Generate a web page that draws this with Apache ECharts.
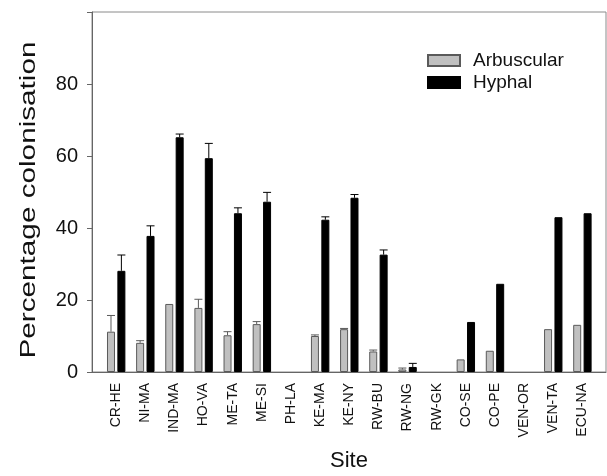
<!DOCTYPE html>
<html>
<head>
<meta charset="utf-8">
<script src="https://cdn.jsdelivr.net/npm/echarts@6/dist/echarts.min.js"></script>
<style>html,body{margin:0;padding:0;background:#fff}#c{width:607px;height:476px}</style>
</head>
<body>
<div id="c"></div>
<script>
const sites = ['CR-HE','NI-MA','IND-MA','HO-VA','ME-TA','ME-SI','PH-LA','KE-MA','KE-NY','RW-BU','RW-NG','RW-GK','CO-SE','CO-PE','VEN-OR','VEN-TA','ECU-NA'];
const arbuscular = [11.2, 8.1, 18.9, 17.8, 10.2, 13.3, 0, 10.0, 11.9, 5.7, 0.7, 0, 3.5, 5.9, 0, 11.9, 13.1];
const arbuscularErr = [4.5, 0.6, 0, 2.4, 1.0, 0.7, 0, 0.3, 0.2, 0.4, 0.4, 0, 0, 0, 0, 0, 0];
const hyphal = [28.1, 37.8, 65.2, 59.4, 44.1, 47.3, 0, 42.3, 48.4, 32.6, 1.4, 0, 13.9, 24.5, 0, 43.0, 44.1];
const hyphalErr = [4.4, 2.8, 0.9, 4.1, 1.5, 2.6, 0, 0.8, 0.9, 1.3, 1.0, 0, 0, 0, 0, 0, 0];
const yTicks = [0, 20, 40, 60, 80];

const FONT = 'Liberation Sans, Arial, sans-serif';
const pos = sites.map((s, i) => i + 1);

function errSeries(vals, errs, offset, color) {
  return {
    type: 'custom',
    silent: true,
    z: 1,
    data: pos.map((p, i) => [p, vals[i], errs[i]]),
    renderItem: function (params, api) {
      const e = api.value(2);
      if (!e) return null;
      const x = api.value(0), v = api.value(1);
      const b = api.coord([x, v]);
      const t = api.coord([x, v + e]);
      const cx = b[0] + offset;
      return {
        type: 'group',
        children: [
          { type: 'line', shape: { x1: cx, y1: b[1], x2: cx, y2: t[1] }, style: { stroke: color, lineWidth: 1 } },
          { type: 'line', shape: { x1: cx - 4, y1: t[1], x2: cx + 4, y2: t[1] }, style: { stroke: color, lineWidth: 1 } }
        ]
      };
    }
  };
}

const chart = echarts.init(document.getElementById('c'), null, { renderer: 'canvas' });
chart.setOption({
  animation: false,
  backgroundColor: '#fff',
  textStyle: { fontFamily: FONT },
  grid: { left: 92, right: 1, top: 12, bottom: 104, show: true, borderColor: '#8a8a8a', borderWidth: 1, containLabel: false, outerBoundsMode: 'none' },
  graphic: [{
    type: 'text',
    x: 29,
    y: 200,
    rotation: Math.PI / 2,
    scaleX: 1.35,
    style: {
      text: 'Percentage colonisation',
      fontFamily: FONT,
      fontSize: 22,
      fill: '#111',
      align: 'center',
      verticalAlign: 'middle'
    }
  }],
  legend: {
    orient: 'vertical',
    left: 427,
    top: 51,
    padding: 0,
    itemWidth: 32,
    itemHeight: 11,
    itemGap: 3,
    icon: 'rect',
    textStyle: { fontFamily: FONT, fontSize: 19, color: '#111', padding: [0, 0, 0, 8] },
    data: ['Arbuscular', 'Hyphal']
  },
  xAxis: {
    type: 'value',
    min: 0.17,
    max: 17.81,
    name: 'Site',
    nameLocation: 'middle',
    nameGap: 78,
    nameTextStyle: { fontFamily: FONT, fontSize: 22, color: '#111' },
    axisLine: { show: true, onZero: false, lineStyle: { color: '#666', width: 1 } },
    axisTick: { show: false },
    splitLine: { show: false },
    axisLabel: {
      customValues: pos,
      rotate: 90,
      margin: 11,
      fontFamily: FONT,
      fontSize: 14,
      color: '#111',
      formatter: function (v) { return sites[Math.round(v) - 1] || ''; }
    }
  },
  yAxis: {
    type: 'value',
    min: 0,
    max: 100,
    interval: 20,
    axisLine: { show: true, lineStyle: { color: '#666', width: 1 } },
    axisTick: { show: true, length: 5, lineStyle: { color: '#666' } },
    splitLine: { show: false },
    axisLabel: {
      fontFamily: FONT,
      fontSize: 20,
      color: '#111',
      margin: 14,
      formatter: function (v) { return yTicks.indexOf(v) >= 0 ? String(v) : ''; }
    }
  },
  series: [
    {
      name: 'Arbuscular',
      type: 'bar',
      barWidth: 8,
      barGap: '30%',
      data: pos.map((p, i) => [p, arbuscular[i] === 0 ? null : arbuscular[i]]),
      itemStyle: { color: '#c0c0c0', borderColor: '#5a5a5a', borderWidth: 1 }
    },
    {
      name: 'Hyphal',
      type: 'bar',
      barWidth: 8,
      barGap: '30%',
      data: pos.map((p, i) => [p, hyphal[i] === 0 ? null : hyphal[i]]),
      itemStyle: { color: '#000', borderColor: '#000', borderWidth: 1 }
    },
    errSeries(arbuscular, arbuscularErr, -5.2, '#5a5a5a'),
    errSeries(hyphal, hyphalErr, 5.2, '#000')
  ]
});
</script>
</body>
</html>
